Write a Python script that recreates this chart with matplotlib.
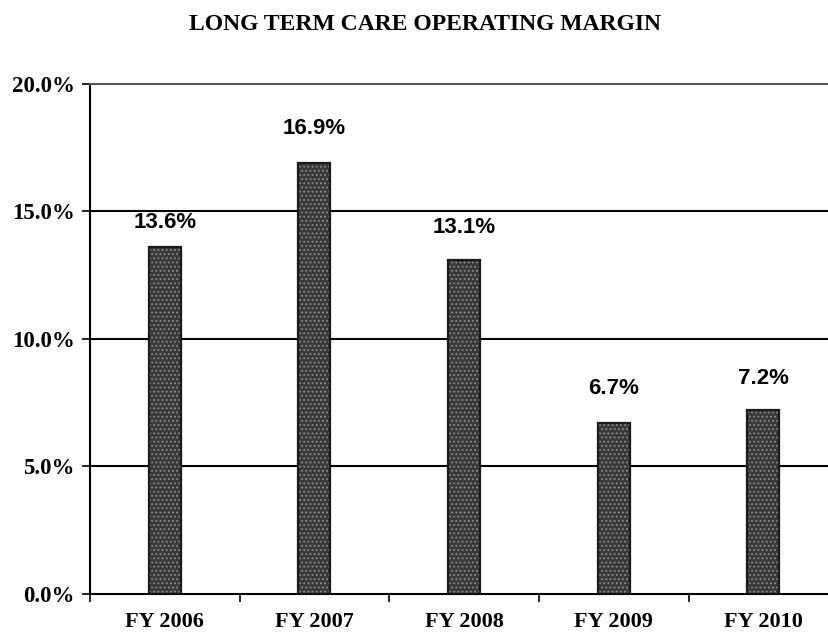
import matplotlib
matplotlib.use("Agg")
import matplotlib.pyplot as plt

years = ["FY 2006", "FY 2007", "FY 2008", "FY 2009", "FY 2010"]
margin = [13.6, 16.9, 13.1, 6.7, 7.2]
yticks = [0, 5, 10, 15, 20]

# label gap above each bar, in points (the first one sits lower, under the 15% line)
label_gap = [10, 17, 16, 17, 15]

plt.rcParams["hatch.linewidth"] = 0.8

fig = plt.figure(figsize=(8.29, 6.34), dpi=100)
# the plot area runs a little past the right edge of the image, as in the scan
ax = fig.add_axes([0.1086, 0.063, 0.9025, 0.805])

x = list(range(len(years)))
# solid dark fill, then a grainy dotted overlay, then the outline
ax.bar(x, margin, width=0.214, color="#3a3a3a", linewidth=0, zorder=3)
ax.bar(x, margin, width=0.214, facecolor="none", edgecolor="#8c8c8c", hatch="....", linewidth=0, zorder=4)
ax.bar(x, margin, width=0.214, facecolor="none", edgecolor="#1a1a1a", linewidth=1.6, zorder=5)

for xi, v, g in zip(x, margin, label_gap):
    ax.annotate(f"{v:.1f}%", (xi, v), xytext=(0, g), textcoords="offset points",
                ha="center", va="bottom", fontsize=16, fontweight="bold",
                family="Liberation Sans")

ax.set_xlim(-0.5, len(years) - 0.5)
ax.set_ylim(0, 20)
ax.set_yticks(yticks)
ax.set_yticklabels([f"{t:.1f}%" for t in yticks], family="Liberation Serif", fontweight="bold", fontsize=16.5)
ax.set_xticks(x)
ax.set_xticklabels(years, family="Liberation Serif", fontweight="bold", fontsize=16)
ax.tick_params(axis="x", length=0, pad=13)
ax.set_xticks([i - 0.5 for i in range(len(years) + 1)], minor=True)
ax.tick_params(axis="x", which="minor", length=6, width=1.2, direction="out")
ax.tick_params(axis="y", length=6, width=1.2, direction="out", pad=5)

for t in [5, 10, 15]:
    ax.axhline(t, color="black", linewidth=1.5, zorder=1)

for s in ["left", "bottom"]:
    ax.spines[s].set_linewidth(1.5)
ax.spines["right"].set_visible(False)
ax.spines["top"].set_linestyle((0, (1, 1)))
ax.spines["top"].set_color("#555555")
ax.spines["top"].set_linewidth(1.5)

fig.text(0.513, 0.962, "LONG TERM CARE OPERATING MARGIN", ha="center", va="center",
         family="Liberation Serif", fontweight="bold", fontsize=17)

fig.savefig("out.png", dpi=100)
